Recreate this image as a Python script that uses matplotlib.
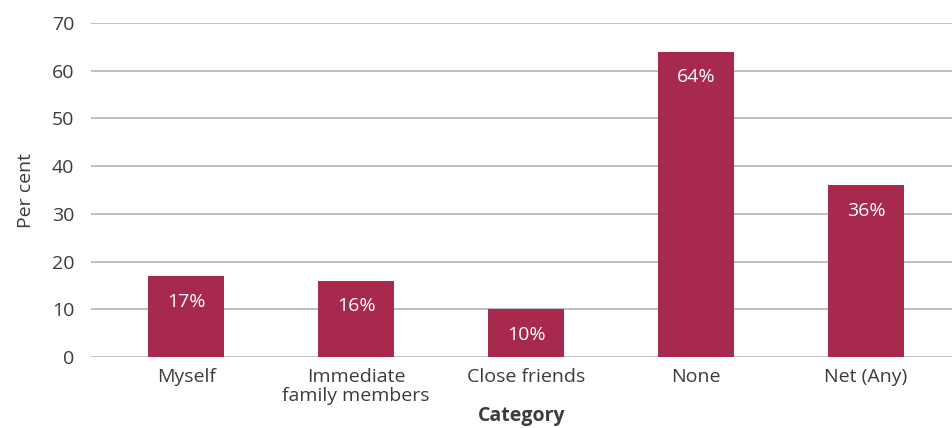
import matplotlib
matplotlib.use('Agg')
import matplotlib.pyplot as plt

categories = ['Myself', 'Immediate\nfamily members', 'Close friends', 'None', 'Net (Any)']
values = [17, 16, 10, 64, 36]
value_labels = ['17%', '16%', '10%', '64%', '36%']

BAR_COLOR = '#A8294E'
TEXT_COLOR = '#3C3C3C'
GRID_COLOR = '#B4B4B4'
FS = 14

plt.rcParams['font.family'] = ['Open Sans', 'DejaVu Sans']

fig = plt.figure(figsize=(9.52, 4.28), dpi=100)
ax = fig.add_axes([91 / 952, 71 / 428, 1 - 91 / 952, (357 - 23) / 428])

x = list(range(len(categories)))
ax.bar(x, values, width=0.45, color=BAR_COLOR, zorder=3)

# value labels sit just inside the top of each bar
for xi, v, lab in zip(x, values, value_labels):
    ax.annotate(lab, xy=(xi, v), xytext=(0, -18.5), textcoords='offset points',
                ha='center', va='center', color='white', fontsize=FS, zorder=4)

ax.set_ylim(0, 70)
ax.set_xlim(-0.56, 4.506)
ax.set_yticks(range(0, 71, 10))
ax.yaxis.grid(True, color=GRID_COLOR, linewidth=1.2, zorder=0)
ax.set_axisbelow(True)

for s in ax.spines.values():
    s.set_visible(False)

ax.set_xticks(x)
ax.set_xticklabels(categories, fontsize=FS, color=TEXT_COLOR, linespacing=1.05)
ax.tick_params(axis='both', length=0, labelsize=FS, labelcolor=TEXT_COLOR)
ax.tick_params(axis='y', pad=12)
ax.tick_params(axis='x', pad=8)

ax.set_xlabel('Category', fontsize=FS, fontweight='bold', color=TEXT_COLOR, labelpad=1)
ax.set_ylabel('Per cent', fontsize=FS, color=TEXT_COLOR, labelpad=12)

fig.savefig('out.png', dpi=100)
plt.close(fig)
